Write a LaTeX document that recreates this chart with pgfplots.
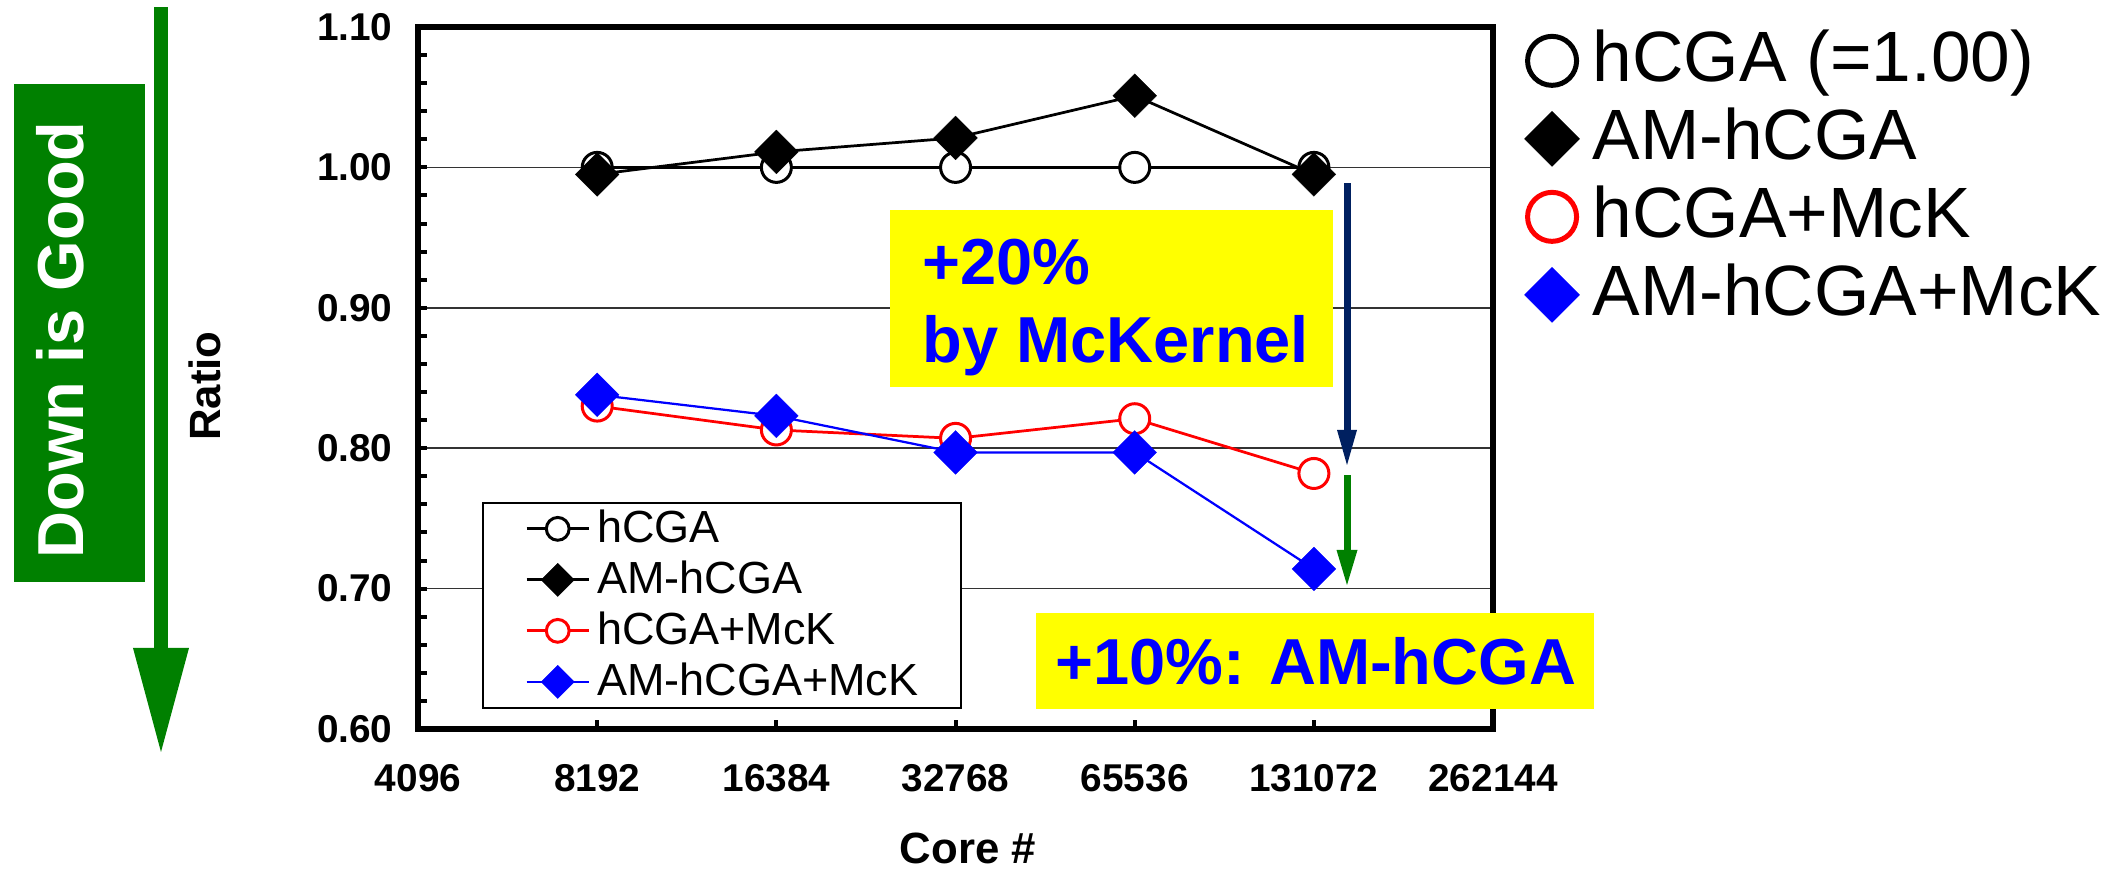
\documentclass[border=0pt]{standalone}
\usepackage{pgfplots}
\pgfplotsset{compat=1.18}
\usepackage{fontspec}
\setmainfont{Liberation Sans}

\definecolor{goodgreen}{RGB}{0,128,0}
\definecolor{navyarrow}{RGB}{0,32,96}
\definecolor{boxyellow}{RGB}{255,255,0}
\definecolor{txtblue}{RGB}{0,0,255}
\definecolor{serred}{RGB}{255,0,0}
\definecolor{serblue}{RGB}{0,0,255}

\begin{document}
\begin{tikzpicture}
% page frame on a pixel grid (1 unit = 0.4pt), origin at the top left
\begin{scope}[shift={(-167.2pt,291.6pt)}, x=0.4pt, y=-0.4pt]
  \useasboundingbox (0,0) rectangle (2118,872);
\end{scope}

\begin{axis}[
  at={(0pt,0pt)}, anchor=south west,
  scale only axis, width=430pt, height=280.8pt,
  xmode=log, log basis x=2,
  xmin=4096, xmax=262144, ymin=0.6, ymax=1.1,
  xtick={4096,8192,16384,32768,65536,131072,262144},
  xticklabels={4096,8192,16384,32768,65536,131072,262144},
  xminorticks=false,
  ytick={0.6,0.7,0.8,0.9,1.0,1.1},
  minor y tick num=4,
  xtick pos=bottom, ytick pos=left,
  tick align=inside,
  major tick length=3.6pt, minor tick length=3.6pt,
  tick style={black, line width=1.6pt},
  axis line style={line width=2.6pt},
  ymajorgrids, grid style={black!80, line width=0.7pt},
  /pgf/number format/assume math mode=true,
  tick label style={font=\bfseries\fontsize{15.5}{15.5}\selectfont, inner sep=0pt},
  yticklabel style={/pgf/number format/fixed, /pgf/number format/fixed zerofill,
    /pgf/number format/precision=2, anchor=east, xshift=-10pt},
  xticklabel style={anchor=base, yshift=-25pt},
  xlabel={Core \#}, ylabel={Ratio},
  label style={font=\bfseries\fontsize{17.5}{17.5}\selectfont, inner sep=0pt},
  xlabel style={at={(axis description cs:0.5116,-0.192)}, anchor=base},
  ylabel style={at={(axis description cs:-0.1842,0.4886)}, anchor=base},
  legend style={at={(axis description cs:0.0595,0.3234)}, anchor=north west,
    draw=black, line width=0.7pt, fill=white,
    inner xsep=17pt, inner ysep=3pt, row sep=5.6pt,
    font=\fontsize{18}{18}\selectfont,
    nodes={inner sep=0pt, text height=13pt, text depth=1.8pt},
    /tikz/every odd column/.append style={column sep=2.8pt}},
  legend cell align=left,
  legend image code/.code={
    \draw[mark repeat=2, mark phase=2, #1, every mark/.append style={scale=0.76}]
      plot coordinates {(0pt,0pt) (12.4pt,0pt) (24.8pt,0pt)};},
]
\addplot[black, line width=1.1pt, mark=*, mark size=6pt,
  mark options={fill=white, draw=black, line width=1.2pt}]
  coordinates {(8192,1.000) (16384,1.000) (32768,1.000) (65536,1.000) (131072,1.000)};
\addplot[black, line width=1.1pt, mark=square*, mark size=6.2pt,
  mark options={rotate=45, fill=black, draw=black, line width=0.1pt}]
  coordinates {(8192,0.995) (16384,1.011) (32768,1.021) (65536,1.051) (131072,0.995)};
\addplot[serred, line width=1.1pt, mark=*, mark size=6pt,
  mark options={fill=white, draw=serred, line width=1.2pt}]
  coordinates {(8192,0.830) (16384,0.813) (32768,0.807) (65536,0.821) (131072,0.782)};
\addplot[serblue, line width=0.9pt, mark=square*, mark size=6.2pt,
  mark options={rotate=45, fill=serblue, draw=serblue, line width=0.1pt}]
  coordinates {(8192,0.838) (16384,0.823) (32768,0.797) (65536,0.797) (131072,0.714)};
\legend{hCGA, AM-hCGA, hCGA+McK, AM-hCGA+McK}
\end{axis}

% series key at the right of the plot
\begin{axis}[
  at={(0pt,0pt)}, anchor=south west,
  scale only axis, width=430pt, height=280.8pt,
  hide axis, xmin=0, xmax=1, ymin=0, ymax=1,
  legend style={at={(axis description cs:1.0288,1.005)}, anchor=north west,
    draw=none, fill=none, inner sep=0pt, row sep=1.7pt,
    font=\fontsize{28.5}{28.5}\selectfont,
    nodes={inner sep=0pt, text height=23pt, text depth=6.5pt},
    /tikz/every odd column/.append style={column sep=5.2pt}},
  legend cell align=left,
  legend image code/.code={\draw[#1] plot coordinates {(0pt,0pt)};},
]
\addlegendimage{only marks, mark=*, mark size=9.8pt,
  mark options={fill=white, draw=black, line width=2pt}}
\addlegendentry{hCGA (=1.00)}
\addlegendimage{only marks, mark=square*, mark size=7.8pt,
  mark options={rotate=45, fill=black, draw=black, line width=0.1pt}}
\addlegendentry{AM-hCGA}
\addlegendimage{only marks, mark=*, mark size=9.8pt,
  mark options={fill=white, draw=serred, line width=2pt}}
\addlegendentry{hCGA+McK}
\addlegendimage{only marks, mark=square*, mark size=7.8pt,
  mark options={rotate=45, fill=serblue, draw=serblue, line width=0.1pt}}
\addlegendentry{AM-hCGA+McK}
\end{axis}

% annotations, on the same pixel grid
\begin{scope}[shift={(-167.2pt,291.6pt)}, x=0.4pt, y=-0.4pt]
  % "down is good" arrow and banner
  \fill[goodgreen] (154,7) rectangle (168,655);
  \fill[goodgreen] (133,648) -- (189,648) -- (161,752) -- cycle;
  \fill[goodgreen] (14,84) rectangle (145,582);
  \node[rotate=90, anchor=base, inner sep=0pt, text=white,
    font=\bfseries\fontsize{26}{26}\selectfont] at (84,340) {Down is Good};
  % McKernel gain
  \fill[boxyellow] (890,210) rectangle (1333,387);
  \node[anchor=base west, inner sep=0pt, text=txtblue,
    font=\bfseries\fontsize{26}{26}\selectfont] at (922,285) {+20\%};
  \node[anchor=base west, inner sep=0pt, text=txtblue,
    font=\bfseries\fontsize{26}{26}\selectfont] at (922,363) {by McKernel};
  % AM-hCGA gain
  \fill[boxyellow] (1036,613) rectangle (1594,709);
  \node[anchor=base west, inner sep=0pt, text=txtblue,
    font=\bfseries\fontsize{26}{26}\selectfont] at (1055,685) {+10\%: AM-hCGA};
  % arrows at 131072 cores
  \fill[navyarrow] (1343.5,183) rectangle (1350.5,435);
  \fill[navyarrow] (1337,430) -- (1357,430) -- (1347,465) -- cycle;
  \fill[goodgreen] (1343.5,475) rectangle (1350.5,555);
  \fill[goodgreen] (1336.5,550) -- (1357.5,550) -- (1347,585) -- cycle;
\end{scope}
\end{tikzpicture}
\end{document}
